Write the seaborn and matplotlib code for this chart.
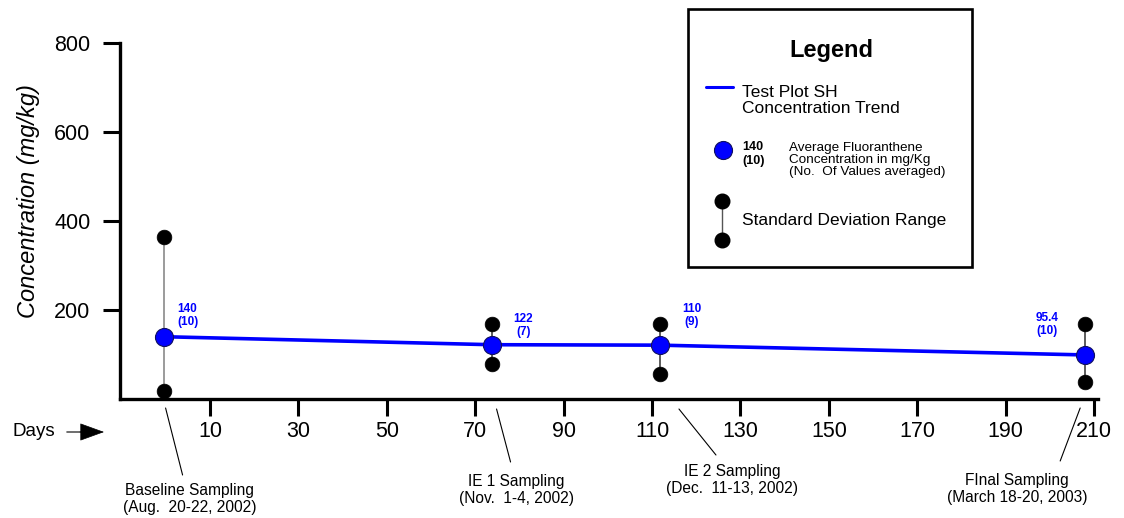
import matplotlib
matplotlib.use('Agg')
import matplotlib.pyplot as plt
import seaborn as sns
import pandas as pd
from matplotlib.transforms import offset_copy
from matplotlib.patches import Rectangle

# ---------------- data ----------------
days = [-0.5, 73.7, 111.8, 208.0]
mean_conc = [140, 122, 121, 99]
sd_upper = [365, 168, 168, 168]
sd_lower = [18, 79, 56, 39]
value_labels = ["140", "122", "110", "95.4"]
count_labels = ["(10)", "(7)", "(9)", "(10)"]
event_names = ["Baseline Sampling", "IE 1 Sampling", "IE 2 Sampling", "FInal Sampling"]
event_dates = ["(Aug.  20-22, 2002)", "(Nov.  1-4, 2002)", "(Dec.  11-13, 2002)", "(March 18-20, 2003)"]
x_ticks = [10, 30, 50, 70, 90, 110, 130, 150, 170, 190, 210]
y_ticks = [200, 400, 600, 800]

# ---------------- layout / style (pixels) ----------------
sd_line_colors = ["#808080", "#303030", "#303030", "#303030"]
label_offsets = [(24, 21), (32, 19.5), (32, 29.5), (-38, 30)]
event_line_start = [(2, -9), (5, -10), (19, -10), (-5, -9)]
event_line_end = [(19, -76), (19, -63), (56, -56), (-25, -62)]
event_text_pos = [(26, -100), (25, -91), (72, -81), (-68, -90)]

sns.set_style('ticks')
plt.rcParams['font.family'] = ['Liberation Sans', 'DejaVu Sans']
plt.rcParams.update({'text.color': 'black', 'axes.labelcolor': 'black',
                     'xtick.color': 'black', 'ytick.color': 'black',
                     'axes.edgecolor': 'black'})

W, H = 1124, 518
fig = plt.figure(figsize=(W / 100, H / 100), dpi=100)
ax = fig.add_axes([120 / W, 1 - 399 / H, 978 / W, 356 / H])

df = pd.DataFrame({'day': days, 'mean': mean_conc, 'hi': sd_upper, 'lo': sd_lower})
caps = pd.DataFrame({'day': days + days, 'conc': sd_upper + sd_lower})

ax.vlines(df['day'], df['lo'], df['hi'], colors=sd_line_colors, lw=1.1, zorder=1)
sns.scatterplot(data=caps, x='day', y='conc', color='black', s=112, marker='o',
                edgecolor='black', linewidth=0.5, zorder=2, ax=ax, legend=False)
sns.lineplot(data=df, x='day', y='mean', color='#0000ff', lw=2.6, marker='o',
             markersize=13, markerfacecolor='#0000ff', markeredgecolor='#101060',
             markeredgewidth=0.8, zorder=3, ax=ax, legend=False)

ax.set_xlim(-10.36, 210.9)
ax.set_ylim(0, 800)
ax.set_xticks(x_ticks)
ax.set_yticks(y_ticks)
for side in ['top', 'right']:
    ax.spines[side].set_visible(False)
for side in ['left', 'bottom']:
    ax.spines[side].set_linewidth(2.4)
    ax.spines[side].set_color('black')
ax.tick_params(axis='x', direction='out', length=12.2, width=2.2, pad=3.5,
               labelsize=15.5, color='black', labelcolor='black')
ax.tick_params(axis='y', direction='out', length=12.2, width=2.2, pad=9,
               labelsize=15.5, color='black', labelcolor='black')
ax.set_xlabel('')
ax.set_ylabel('Concentration (mg/kg)', fontsize=17, style='italic', color='black')
ax.yaxis.set_label_coords((40 - 120) / 978, (399 - 201.5) / 356)
ax.patch.set_alpha(0)

# value labels
for d, m, v, n, (dx, dy) in zip(days, mean_conc, value_labels, count_labels, label_offsets):
    ax.annotate(f"{v}\n{n}", xy=(d, m), xytext=(dx, dy), textcoords='offset pixels',
                ha='center', va='center', color='#0000ff', fontsize=8.5,
                fontweight='bold', linespacing=1.1)

# sampling event annotations
for d, name, date, s, e, t in zip(days, event_names, event_dates,
                                  event_line_start, event_line_end, event_text_pos):
    tr = offset_copy(ax.transData, fig=fig, x=s[0], y=s[1], units='dots')
    ax.annotate('', xy=(d, 0), xycoords=tr, xytext=(e[0] - s[0], e[1] - s[1]),
                textcoords='offset pixels',
                arrowprops=dict(arrowstyle='-', lw=0.8, color='black', shrinkA=0, shrinkB=0),
                annotation_clip=False)
    ax.annotate(f"{name}\n{date}", xy=(d, 0), xytext=t, textcoords='offset pixels',
                ha='center', va='center', fontsize=11.2, linespacing=1.1,
                color='black', annotation_clip=False)

# overlay in pixel space for legend and "Days" arrow
ov = fig.add_axes([0, 0, 1, 1])
ov.set_xlim(0, W)
ov.set_ylim(H, 0)
ov.axis('off')
ov.patch.set_alpha(0)

ov.text(13, 432, 'Days', fontsize=13.5, va='center', ha='left', color='black')
ov.plot([67, 88], [432, 432], color='#555555', lw=1.2)
ov.annotate('', xy=(104, 432), xytext=(80, 432),
            arrowprops=dict(arrowstyle='-|>,head_length=1.6,head_width=0.58',
                            color='black', lw=0.5, shrinkA=0, shrinkB=0))

ov.add_patch(Rectangle((688, 9), 284, 258, fill=False, lw=1.9, edgecolor='black'))
ov.text(831, 50, 'Legend', fontsize=17, fontweight='bold', ha='center', va='center',
        color='black')
ov.plot([706, 733], [87, 87], color='#0000ff', lw=2.2)
ov.text(742, 100.5, 'Test Plot SH\nConcentration Trend', fontsize=12.5, va='center',
        ha='left', linespacing=1.1, color='black')
ov.plot([723], [150], 'o', ms=13, mfc='#0000ff', mec='#101060', mew=0.8)
ov.text(742, 154, f"{value_labels[0]}\n{count_labels[0]}", fontsize=9, fontweight='bold',
        va='center', ha='left', linespacing=1.3, color='black')
ov.text(789, 160, 'Average Fluoranthene\nConcentration in mg/Kg\n(No.  Of Values averaged)',
        fontsize=9.7, va='center', ha='left', linespacing=1.05, color='black')
ov.plot([722, 722], [201, 240], color='#555555', lw=1)
ov.plot([722, 722], [201, 240], 'o', ms=10.5, color='black', lw=0)
ov.text(742, 220, 'Standard Deviation Range', fontsize=12.5, va='center', ha='left',
        color='black')

fig.savefig('out.png', dpi=100)
